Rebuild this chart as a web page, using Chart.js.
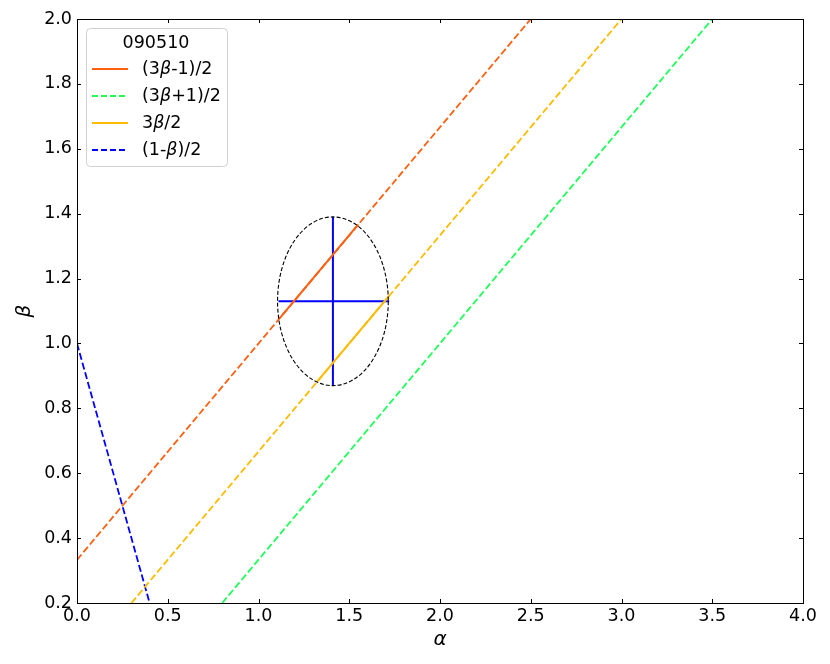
<!DOCTYPE html>
<html>
<head>
<meta charset="utf-8">
<script src="https://cdn.jsdelivr.net/npm/chart.js@4"></script>
<style>
  body { margin: 0; background: #fff; }
  #wrap { width: 830px; height: 664px; }
</style>
</head>
<body>
<div id="wrap"><canvas id="betaChart" width="830" height="664"></canvas></div>
<script>
// --- data ---
const legendTitle = '090510';
const seriesLabels = ['(3β-1)/2', '(3β+1)/2', '3β/2', '(1-β)/2'];
const seriesColors = ['#ff6010', '#1eff5a', '#ffbb00', '#0000ff'];
const seriesDashed = [false, true, false, true];

const orangeLine  = [{x: 0.0, y: 0.333}, {x: 2.5, y: 2.0}];
const orangeSolid = [{x: 1.117, y: 1.078}, {x: 1.55, y: 1.367}];
const greenLine   = [{x: 0.8, y: 0.2}, {x: 3.5, y: 2.0}];
const yellowLine  = [{x: 0.3, y: 0.2}, {x: 3.0, y: 2.0}];
const yellowSolid = [{x: 1.323, y: 0.882}, {x: 1.716, y: 1.144}];
const blueLine    = [{x: 0.0, y: 1.0}, {x: 0.4, y: 0.2}];

const crossH = [{x: 1.11, y: 1.13}, {x: 1.72, y: 1.13}];
const crossV = [{x: 1.41, y: 0.87}, {x: 1.41, y: 1.39}];
const ellipseCenter = [1.41, 1.13];
const ellipseRadius = [0.305, 0.26];

const xRange = [0, 4];
const yRange = [0.2, 2.0];

const FONT = "'DejaVu Sans', sans-serif";

function line(data, color, dashed, width) {
  return {
    data: data,
    showLine: true,
    borderColor: color,
    borderWidth: width,
    borderDash: dashed ? [7, 3] : [],
    pointRadius: 0,
    fill: false
  };
}

// ticks pointing inwards on all four sides + frame
const frameTicks = {
  id: 'frameTicks',
  afterDraw(chart) {
    const {ctx, chartArea: a, scales} = chart;
    ctx.save();
    ctx.strokeStyle = '#000';
    ctx.lineWidth = 1;
    const len = 4;
    scales.x.ticks.forEach(t => {
      const px = Math.round(scales.x.getPixelForValue(t.value)) + 0.5;
      ctx.beginPath();
      ctx.moveTo(px, a.bottom); ctx.lineTo(px, a.bottom - len);
      ctx.moveTo(px, a.top); ctx.lineTo(px, a.top + len);
      ctx.stroke();
    });
    scales.y.ticks.forEach(t => {
      const py = Math.round(scales.y.getPixelForValue(t.value)) + 0.5;
      ctx.beginPath();
      ctx.moveTo(a.left, py); ctx.lineTo(a.left + len, py);
      ctx.moveTo(a.right, py); ctx.lineTo(a.right - len, py);
      ctx.stroke();
    });
    ctx.strokeRect(a.left + 0.5, a.top + 0.5, a.right - a.left, a.bottom - a.top);
    ctx.restore();
  }
};

// dashed error ellipse, through the scales
const errorEllipse = {
  id: 'errorEllipse',
  afterDatasetsDraw(chart) {
    const {ctx, scales} = chart;
    const cx = scales.x.getPixelForValue(ellipseCenter[0]);
    const cy = scales.y.getPixelForValue(ellipseCenter[1]);
    const rx = Math.abs(scales.x.getPixelForValue(ellipseCenter[0] + ellipseRadius[0]) - cx);
    const ry = Math.abs(scales.y.getPixelForValue(ellipseCenter[1] + ellipseRadius[1]) - cy);
    ctx.save();
    ctx.strokeStyle = '#000';
    ctx.lineWidth = 1.1;
    ctx.setLineDash([4, 2]);
    ctx.beginPath();
    ctx.ellipse(cx, cy, rx, ry, 0, 0, Math.PI * 2);
    ctx.stroke();
    ctx.restore();
  }
};

// matplotlib-like legend box in the upper left
function drawMathText(ctx, text, x, y, size) {
  const parts = text.split('β');
  let cx = x;
  parts.forEach((p, i) => {
    ctx.font = size + 'px ' + FONT;
    ctx.fillText(p, cx, y);
    cx += ctx.measureText(p).width;
    if (i < parts.length - 1) {
      ctx.font = 'italic ' + size + 'px ' + FONT;
      ctx.fillText('β', cx, y);
      cx += ctx.measureText('β').width;
    }
  });
}

const boxLegend = {
  id: 'boxLegend',
  afterDraw(chart) {
    const {ctx, chartArea: a} = chart;
    const bx = a.left + 9, by = a.top + 9, bw = 141, bh = 138;
    ctx.save();
    ctx.beginPath();
    ctx.roundRect(bx + 0.5, by + 0.5, bw, bh, 4);
    ctx.fillStyle = 'rgba(255,255,255,0.85)';
    ctx.fill();
    ctx.strokeStyle = '#d0d0d0';
    ctx.lineWidth = 1;
    ctx.stroke();

    ctx.fillStyle = '#000';
    ctx.textBaseline = 'middle';
    ctx.textAlign = 'center';
    ctx.font = '17.5px ' + FONT;
    ctx.fillText(legendTitle, bx + 70, by + 15);
    ctx.textAlign = 'left';
    seriesLabels.forEach((lab, i) => {
      const y = by + 41 + i * 27;
      ctx.strokeStyle = seriesColors[i];
      ctx.lineWidth = 2;
      ctx.setLineDash(seriesDashed[i] ? [6, 3] : []);
      ctx.beginPath();
      ctx.moveTo(bx + 6, y); ctx.lineTo(bx + 42, y);
      ctx.stroke();
      ctx.setLineDash([]);
      ctx.fillStyle = '#000';
      drawMathText(ctx, lab, bx + 56, y, 17.5);
    });
    ctx.restore();
  }
};

new Chart(document.getElementById('betaChart').getContext('2d'), {
  type: 'scatter',
  data: {
    datasets: [
      line(orangeLine, seriesColors[0], true, 1.8),
      line(greenLine, seriesColors[1], true, 1.8),
      line(yellowLine, seriesColors[2], true, 1.8),
      line(blueLine, seriesColors[3], true, 1.8),
      line(orangeSolid, seriesColors[0], false, 2),
      line(yellowSolid, seriesColors[2], false, 2),
      line(crossH, '#0000ff', false, 2),
      line(crossV, '#0000ff', false, 2)
    ]
  },
  options: {
    responsive: false,
    animation: false,
    devicePixelRatio: 1,
    layout: { padding: { top: 19, right: 27, left: 0, bottom: 0 } },
    plugins: { legend: { display: false }, tooltip: { enabled: false } },
    scales: {
      x: {
        type: 'linear',
        min: xRange[0],
        max: xRange[1],
        afterFit: s => { s.height = 61; },
        grid: { drawOnChartArea: false, drawTicks: false },
        border: { display: false },
        ticks: {
          stepSize: 0.5,
          color: '#000',
          padding: 3,
          maxRotation: 0,
          font: { family: FONT, size: 17.5 },
          callback: v => v.toFixed(1)
        },
        title: {
          display: true,
          text: 'α',
          color: '#000',
          font: { family: FONT, size: 20, style: 'italic' },
          padding: { top: 0, bottom: 12 }
        }
      },
      y: {
        type: 'linear',
        min: yRange[0],
        max: yRange[1],
        afterFit: s => { s.width = 77; },
        grid: { drawOnChartArea: false, drawTicks: false },
        border: { display: false },
        ticks: {
          stepSize: 0.2,
          color: '#000',
          padding: 5,
          font: { family: FONT, size: 17.5 },
          callback: v => v.toFixed(1)
        },
        title: {
          display: true,
          text: 'β',
          color: '#000',
          font: { family: FONT, size: 20, style: 'italic' },
          padding: { top: 13, bottom: 0 }
        }
      }
    }
  },
  plugins: [errorEllipse, frameTicks, boxLegend]
});
</script>
</body>
</html>
